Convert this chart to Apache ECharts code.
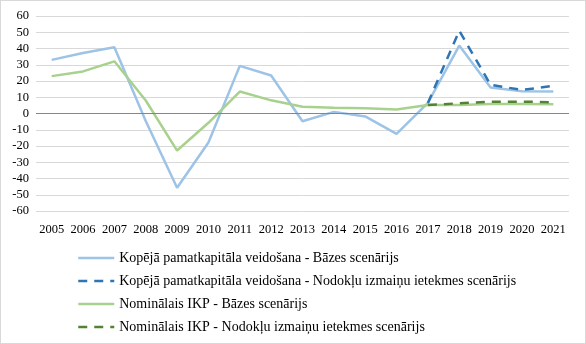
<!DOCTYPE html>
<html><head><meta charset="utf-8">
<script src="https://cdn.jsdelivr.net/npm/echarts@6/dist/echarts.min.js"></script>
<style>html,body{margin:0;padding:0;background:#fff}#c{width:586px;height:344px;box-sizing:border-box;border:1px solid #d9d9d9}</style>
</head><body><div id="c"></div>
<script>
const years = ['2005','2006','2007','2008','2009','2010','2011','2012','2013','2014','2015','2016','2017','2018','2019','2020','2021'];
const gfcfBase = [33, 37.2, 40.8, -4.6, -45.7, -17.8, 29.3, 23.4, -4.8, 1, -1.8, -12.5, 6.5, 41.8, 16, 13.7, 13.5];
const gfcfTax = [null, null, null, null, null, null, null, null, null, null, null, null, 6.5, 50.9, 17.6, 14.5, 17];
const gdpBase = [23, 25.9, 32.1, 8, -22.8, -5.7, 13.5, 8.1, 4.2, 3.6, 3.2, 2.4, 5.2, 5.2, 5.9, 5.9, 5.7];
const gdpTax = [null, null, null, null, null, null, null, null, null, null, null, null, 5.2, 6.3, 7.3, 7.3, 6.9];
const names = ['Kopējā pamatkapitāla veidošana - Bāzes scenārijs','Kopējā pamatkapitāla veidošana - Nodokļu izmaiņu ietekmes scenārijs','Nominālais IKP - Bāzes scenārijs','Nominālais IKP - Nodokļu izmaiņu ietekmes scenārijs'];
const font = '"Liberation Serif","Times New Roman",serif';
const chart = echarts.init(document.getElementById('c'));
function s(name, data, color, dashed){
  return {name, type:'line', data, symbol:'none', showSymbol:false, connectNulls:false,
    lineStyle:{color, width:2.5, type: dashed ? [9,7] : 'solid'}, itemStyle:{color}, z: dashed?3:2};
}
chart.setOption({
  animation:false,
  grid:{left:35,right:16,top:15,bottom:132,containLabel:false},
  xAxis:{type:'category',data:years,boundaryGap:true,
    axisLine:{show:false},axisTick:{show:false},
    axisLabel:{color:'#000',fontFamily:font,fontSize:12.5,margin:12,interval:0}},
  yAxis:{type:'value',min:-60,max:60,interval:10,
    axisLine:{show:false},axisTick:{show:false},
    axisLabel:{color:'#000',fontFamily:font,fontSize:12.5,margin:7},
    splitLine:{lineStyle:{color:'#d9d9d9',width:1}}},
  legend:{orient:'vertical',left:71,top:245,itemGap:9,itemWidth:36,itemHeight:14,
    itemStyle:{color:'transparent',borderWidth:0,opacity:0},
    lineStyle:{width:2.5},
    textStyle:{fontFamily:font,fontSize:14,lineHeight:14,color:'#000'},data:names},
  series:[
    s(names[0], gfcfBase, '#9dc3e6', false),
    s(names[1], gfcfTax, '#2e75b6', true),
    s(names[2], gdpBase, '#a9d18e', false),
    s(names[3], gdpTax, '#548235', true),
    {type:'line',data:[],markLine:{silent:true,symbol:'none',label:{show:false},lineStyle:{color:'#868686',width:1,type:'solid'},data:[{yAxis:0}]}}
  ]
});
</script></body></html>
